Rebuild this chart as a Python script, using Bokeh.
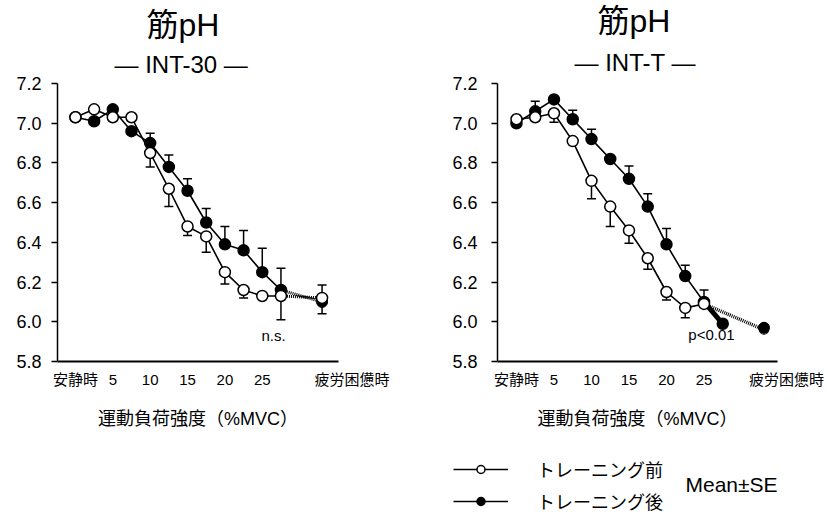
from bokeh.plotting import figure
from bokeh.layouts import row, column
from bokeh.models import (FixedTicker, PrintfTickFormatter, Label, Whisker, TeeHead, Title,
                          ColumnDataSource, Legend, LegendItem, Range1d)
from bokeh.embed import file_html
from bokeh.resources import INLINE

FONT = "Liberation Sans, Noto Sans CJK JP"

# ---------------- data ----------------
stage_mvc = [0, 2.5, 5, 7.5, 10, 12.5, 15, 17.5, 20, 22.5, 25, 27.5]
fatigue_mvc = 33
x_tick_values = [0, 5, 10, 15, 20, 25]
x_tick_labels = ["安静時", "5", "10", "15", "20", "25"]
fatigue_label = "疲労困憊時"
y_tick_values = [5.8, 6.0, 6.2, 6.4, 6.6, 6.8, 7.0, 7.2]

# INT-30
pre_30 = [7.03, 7.07, 7.03, 7.03, 6.85, 6.67, 6.48, 6.43, 6.25, 6.16, 6.13, 6.13]
pre_30_se = [0, 0, 0, 0, 0.07, 0.09, 0.045, 0.08, 0.06, 0.04, 0, 0.12]
pre_30_fat = 6.12
pre_30_fat_se = 0.065
post_30 = [7.03, 7.01, 7.07, 6.96, 6.90, 6.78, 6.66, 6.50, 6.39, 6.36, 6.25, 6.16]
post_30_se = [0, 0, 0, 0, 0.05, 0.06, 0.06, 0.07, 0.09, 0.10, 0.12, 0.11]
post_30_fat = 6.10
post_30_fat_se = 0.06

# INT-T
pre_t = [7.02, 7.03, 7.05, 6.91, 6.71, 6.58, 6.46, 6.32, 6.15, 6.07, 6.09]
pre_t_se = [0, 0, 0.045, 0, 0.09, 0.10, 0.065, 0.055, 0.04, 0.05, 0]
pre_t_fat = 5.96
post_t = [7.00, 7.06, 7.12, 7.02, 6.92, 6.82, 6.72, 6.58, 6.39, 6.23, 6.10, 5.99]
post_t_se = [0, 0.05, 0, 0.045, 0.05, 0, 0.065, 0.065, 0.08, 0.055, 0.06, 0]
post_t_fat = 5.97


def whisker(p, xs, ys, ses, direction):
    pts = [(x, y, s) for x, y, s in zip(xs, ys, ses) if s > 0]
    if direction == "down":
        src = ColumnDataSource(dict(x=[a for a, _, _ in pts], lower=[b - c for _, b, c in pts],
                                    upper=[b for _, b, _ in pts]))
        w = Whisker(source=src, base="x", lower="lower", upper="upper", line_width=1.5,
                    upper_head=None, lower_head=TeeHead(size=9, line_width=1.5), level="underlay")
    else:
        src = ColumnDataSource(dict(x=[a for a, _, _ in pts], lower=[b for _, b, _ in pts],
                                    upper=[b + c for _, b, c in pts]))
        w = Whisker(source=src, base="x", lower="lower", upper="upper", line_width=1.5,
                    lower_head=None, upper_head=TeeHead(size=9, line_width=1.5), level="underlay")
    p.add_layout(w)


def make_panel(bl, br, xr, ystand, title_main, title_sub, off_main, off_sub, sub_standoff,
               fat_pad):
    p = figure(width=414, height=440, output_backend="svg", toolbar_location=None,
               x_range=Range1d(*xr), y_range=Range1d(5.8, 7.2),
               min_border_left=bl, min_border_right=br, min_border_top=83, min_border_bottom=79)
    p.grid.visible = False
    p.outline_line_color = None
    p.yaxis.ticker = FixedTicker(ticks=y_tick_values)
    p.yaxis.formatter = PrintfTickFormatter(format="%.1f")
    p.yaxis.major_tick_out = 6
    p.yaxis.major_tick_in = 0
    p.yaxis.minor_tick_line_color = None
    p.yaxis.axis_line_width = 1.5
    p.yaxis.major_tick_line_width = 1.5
    p.yaxis.major_label_text_font = FONT
    p.yaxis.major_label_text_font_size = "18px"
    p.yaxis.major_label_text_color = "black"
    p.yaxis.major_label_standoff = ystand
    ticks = x_tick_values + [fatigue_mvc]
    labels = x_tick_labels + ["\u3000" * fat_pad + fatigue_label]
    p.xaxis.ticker = FixedTicker(ticks=ticks)
    p.xaxis.major_label_overrides = {t: l for t, l in zip(ticks, labels)}
    p.xaxis.major_tick_line_color = None
    p.xaxis.minor_tick_line_color = None
    p.xaxis.major_tick_out = 0
    p.xaxis.major_tick_in = 0
    p.xaxis.axis_line_width = 2.2
    p.xaxis.major_label_standoff = 9
    p.xaxis.major_label_text_font = FONT
    p.xaxis.major_label_text_font_size = "15px"
    p.xaxis.major_label_text_color = "black"
    p.xaxis.axis_label = "運動負荷強度（%MVC）"
    p.xaxis.axis_label_text_font = FONT
    p.xaxis.axis_label_text_font_size = "18px"
    p.xaxis.axis_label_text_font_style = "normal"
    p.xaxis.axis_label_text_color = "black"
    p.xaxis.axis_label_standoff = 18
    p.add_layout(Title(text=title_sub, align="left", offset=off_sub, text_font=FONT,
                       text_font_size="24px", text_font_style="normal", text_color="black",
                       standoff=sub_standoff), "above")
    p.add_layout(Title(text=title_main, align="left", offset=off_main, text_font=FONT,
                       text_font_size="32px", text_font_style="normal", text_color="black",
                       standoff=0), "above")
    return p


def series(p, xs, ys, filled, **kw):
    ln = p.line(xs, ys, line_color="black", line_width=1.6, **kw)
    sc = p.scatter(xs, ys, size=11, line_color="black", line_width=1.5,
                   fill_color="black" if filled else "white", **kw)
    return ln, sc


def label(p, **kw):
    base = dict(text_align="center", text_baseline="middle", text_font=FONT,
                text_font_size="15px", text_color="black")
    base.update(kw)
    p.add_layout(Label(**base))


# ---------------- left: INT-30 ----------------
p1 = make_panel(57, 76, (-2.4, 35.2), 10, "筋pH", "— INT-30  —", 89, 57, 12, 4)
whisker(p1, stage_mvc, pre_30, pre_30_se, "down")
whisker(p1, stage_mvc, post_30, post_30_se, "up")
whisker(p1, [fatigue_mvc], [pre_30_fat], [pre_30_fat_se], "up")
whisker(p1, [fatigue_mvc], [post_30_fat], [post_30_fat_se], "down")
p1.line([stage_mvc[-1], fatigue_mvc], [post_30[-1], post_30_fat], line_color="black",
        line_width=3, line_dash="1 1")
p1.line([stage_mvc[-1], fatigue_mvc], [pre_30[-1], pre_30_fat], line_color="black",
        line_width=3, line_dash="1 1")
series(p1, stage_mvc, post_30, True)
p1.scatter([fatigue_mvc], [post_30_fat], size=11, line_color="black", fill_color="black")
series(p1, stage_mvc, pre_30, False)
p1.scatter([fatigue_mvc], [pre_30_fat], size=11, line_color="black", line_width=1.5,
           fill_color="white")
label(p1, x=26.5, y=5.93, text="n.s.")

# ---------------- right: INT-T ----------------
p2 = make_panel(83, 51, (-2.53, 34.8), 14, "筋pH", "— INT-T —", 100, 77, 16, 3)
whisker(p2, stage_mvc, pre_t, pre_t_se, "down")
whisker(p2, stage_mvc, post_t, post_t_se, "up")
p2.line([stage_mvc[len(pre_t) - 1], fatigue_mvc], [pre_t[-1], pre_t_fat], line_color="black",
        line_width=3.5, line_dash="1 1")
series(p2, stage_mvc, post_t, True)
p2.line(stage_mvc[len(post_t) - 2:len(post_t)], post_t[-2:], line_color="black", line_width=5)
p2.scatter([fatigue_mvc], [post_t_fat], size=11, line_color="black", fill_color="black")
series(p2, stage_mvc[:len(pre_t)], pre_t, False)
p2.scatter([fatigue_mvc], [pre_t_fat], size=9, line_color="black", line_width=1.2,
           fill_color="white", level="underlay")
label(p2, x=26.0, y=5.935, text="p<0.01")

# ---------------- legend strip under the right panel ----------------
p3 = figure(width=414, height=76, output_backend="svg", toolbar_location=None,
            x_range=Range1d(0, 1), y_range=Range1d(0, 1), min_border=0)
p3.axis.visible = False
p3.grid.visible = False
p3.outline_line_color = None
lg_pre_ln, lg_pre_sc = series(p3, stage_mvc[:len(pre_t)], pre_t, False, visible=False)
lg_post_ln, lg_post_sc = series(p3, stage_mvc, post_t, True, visible=False)
lg_pre_sc.glyph.size = 9
lg_post_sc.glyph.size = 9
legend = Legend(items=[LegendItem(label="トレーニング前", renderers=[lg_pre_ln, lg_pre_sc]),
                       LegendItem(label="トレーニング後", renderers=[lg_post_ln, lg_post_sc])],
                location=(39, 2), glyph_width=55, glyph_height=20, spacing=6,
                label_standoff=29, padding=0, margin=0, border_line_color=None,
                background_fill_alpha=0, inactive_fill_alpha=0, label_text_font=FONT,
                label_text_font_size="18px", label_text_color="black")
p3.add_layout(legend)
label(p3, x=271, y=32, x_units="screen", y_units="screen", text="Mean±SE", text_align="left",
      text_font_size="21px")

layout = row(p1, column(p2, row(p3)))
open("out.html", "w").write(file_html(layout, INLINE))
